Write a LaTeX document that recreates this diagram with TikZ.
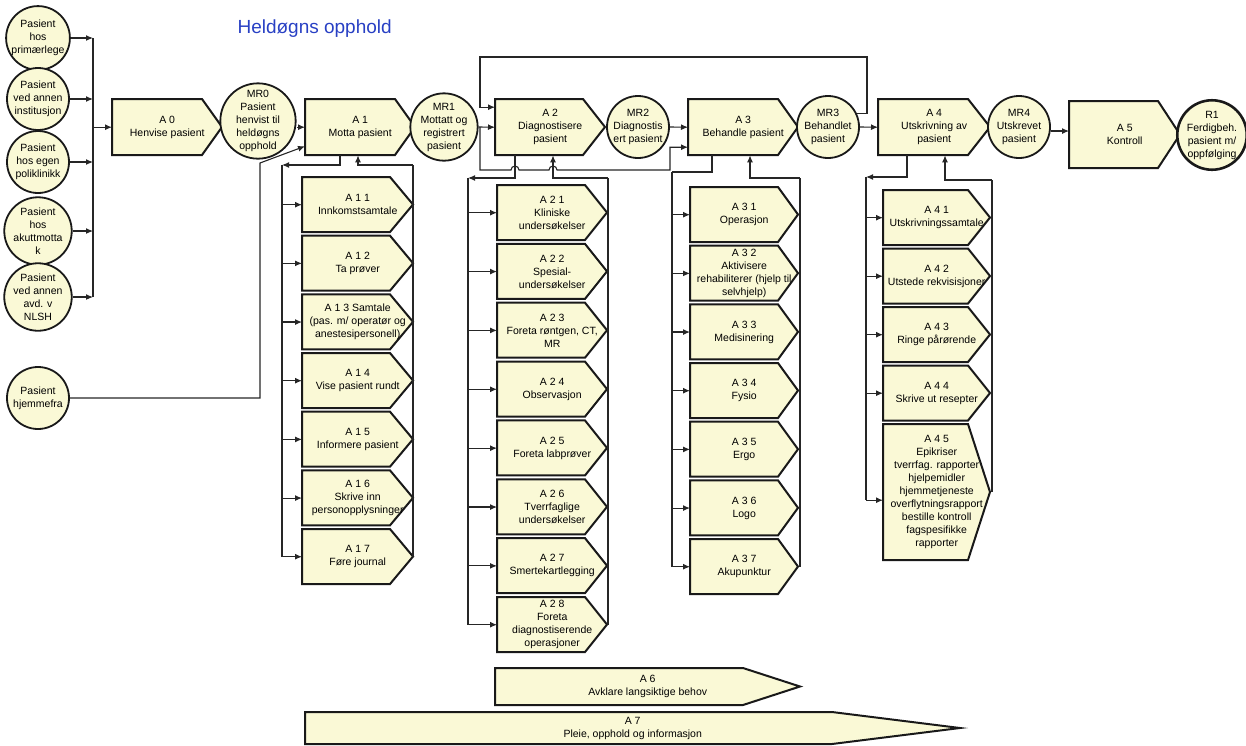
\documentclass[tikz,border=0pt]{standalone}
\usepackage{fontspec}
\setmainfont{Liberation Sans}
\usetikzlibrary{arrows.meta}

\definecolor{boxfill}{RGB}{250,249,214}
\definecolor{titleblue}{RGB}{40,64,196}

\tikzset{
  actshape/.style={draw=black!90, line width=2pt, fill=boxfill, line join=miter},
  acttext/.style={inner sep=0pt, align=center, font=\fontsize{10.5}{13}\selectfont},
  state/.style={circle, draw=black!90, line width=1.8pt, fill=boxfill, inner sep=0pt,
    align=center, font=\fontsize{10.5}{13}\selectfont, minimum size=62pt},
  conn/.style={draw=black!85, line width=1.1pt},
  flow/.style={conn, -{Latex[length=7pt,width=6pt]}},
}

% activity box: name, left, top, body width, height, tip length, text
\newcommand{\actbox}[7]{%
  \filldraw[actshape] (#2,#3) -- ++(#4,0) -- ++(#6,#5/2) -- ++(-#6,#5/2) -- ++(-#4,0) -- cycle;
  \node[acttext, minimum width=#4+#6, minimum height=#5, anchor=north west] (#1) at (#2,#3) {#7};
}

\begin{document}
\begin{tikzpicture}[x=1pt,y=-1pt]
    \useasboundingbox (0,0) rectangle (1246,745);

    % Title
    \node[anchor=west, font=\fontsize{19}{21}\selectfont, text=titleblue] (title) at (234,29) {Heldøgns opphold};

    % Where the patient comes from
    \foreach \n/\y/\txt in {
        p1/38/Pasient\\hos\\primærlege,
        p2/99/Pasient\\ved annen\\institusjon,
        p3/162/Pasient\\hos egen\\poliklinikk,
        p4/231/Pasient\\hos\\akuttmotta\\k,
        p5/297/Pasient\\ved annen\\avd. v\\NLSH,
        p6/398/Pasient\\hjemmefra
    }
    {
        \node[state] (\n) at (38,\y) {\txt};
    }

    \coordinate (bustop) at (93,38);
    \coordinate (busbot) at (93,297);
    \draw[conn] (bustop) -- (busbot);
    \foreach \n in {p1,p2,p3,p4,p5}
        \draw[flow] (\n.east) -- (\n.east -| bustop);

    % Main chain
    \actbox{a0}{112}{99}{90}{56}{20}{A 0\\Henvise pasient}
    \node[state, minimum size=68pt] (mr0) at (258,121) {MR0\\Pasient\\henvist til\\heldøgns\\opphold};
    \actbox{a1}{305}{99}{90}{56}{20}{A 1\\Motta pasient}
    \node[state, minimum size=60pt] (mr1) at (444,127) {MR1\\Mottatt og\\registrert\\pasient};
    \actbox{a2}{495}{99}{88}{56}{22}{A 2\\Diagnostisere\\pasient}
    \node[state] (mr2) at (638,127) {MR2\\Diagnostis\\ert pasient};
    \actbox{a3}{688}{99}{90}{56}{20}{A 3\\Behandle pasient}
    \node[state] (mr3) at (828,127) {MR3\\Behandlet\\pasient};
    \actbox{a4}{878}{99}{90}{56}{22}{A 4\\Utskrivning av\\pasient}
    \node[state] (mr4) at (1019,127) {MR4\\Utskrevet\\pasient};
    \actbox{a5}{1069}{101}{89}{67}{22}{A 5\\Kontroll}
    \node[state, line width=2.6pt, minimum size=64pt] (r1) at (1212,135) {R1\\Ferdigbeh.\\pasient m/\\oppfølging};

    \draw[flow] (a0.west -| bustop) -- (a0.west);
    \draw[flow] (a1.west -| mr0.east) -- (a1.west);
    \draw[flow] (mr1.east) -- (a2.west);
    \draw[flow] (mr2.east) -- (a3.west);
    \draw[flow] (mr3.east) -- (a4.west);
    \draw[flow] ([yshift=-4pt]mr4.east) -- ([yshift=-4pt]mr4.east -| a5.west);

    % From home
    \coordinate (hj) at (260,163);
    \draw[flow] (p6.east) -| (hj) -- ([yshift=-19pt]a1.west);

    % Back to diagnosis
    \coordinate (loopr) at (867,57);
    \coordinate (loopl) at (480,57);
    \draw[flow] (mr3.25) -| (loopr) -- (loopl) |- ([yshift=20pt]a2.west);

    % Straight to treatment
    \coordinate (split) at (480,127);
    \draw[flow] (split) -- (480,170) -- (511,170) arc[start angle=180, end angle=360, radius=4]
        -- (549,170) arc[start angle=180, end angle=360, radius=4]
        -- (670,170) |- ([yshift=-20pt]a3.west);

    % A 1 sub-activities
    \foreach \i/\txt in {
        1/A 1 1\\Innkomstsamtale,
        2/A 1 2\\Ta prøver,
        3/A 1 3 Samtale\\(pas. m{/} operatør og\\anestesipersonell),
        4/A 1 4\\Vise pasient rundt,
        5/A 1 5\\Informere pasient,
        6/A 1 6\\Skrive inn\\personopplysninger,
        7/A 1 7\\Føre journal
    }
    {
        \pgfmathsetmacro{\ytop}{177+(\i-1)*58.67}
        \actbox{a1\i}{302}{\ytop}{88}{55}{23}{\txt}
    }
    \coordinate (d1) at (282,165);
    \coordinate (c1) at (413,165);
    \draw[flow] ([xshift=35pt]a1.south west) |- (d1);
    \draw[conn] (d1) -- (d1 |- a17.west);
    \foreach \i in {1,...,7}
        \draw[flow] (a1\i.west -| d1) -- (a1\i.west);
    \draw[conn] (c1 |- a17.east) -- (c1);
    \draw[flow] (c1) -| ([xshift=53pt]a1.south west);

    % A 2 sub-activities
    \foreach \i/\txt in {
        1/A 2 1\\Kliniske\\undersøkelser,
        2/A 2 2\\Spesial-\\undersøkelser,
        3/A 2 3\\Foreta røntgen{,} CT{,}\\MR,
        4/A 2 4\\Observasjon,
        5/A 2 5\\Foreta labprøver,
        6/A 2 6\\Tverrfaglige\\undersøkelser,
        7/A 2 7\\Smertekartlegging,
        8/A 2 8\\Foreta\\diagnostiserende\\operasjoner
    }
    {
        \pgfmathsetmacro{\ytop}{185+(\i-1)*58.86}
        \actbox{a2\i}{497}{\ytop}{88}{55}{22}{\txt}
    }
    \coordinate (d2) at (468,178);
    \coordinate (c2) at (608,178);
    \draw[flow] ([xshift=20pt]a2.south west) |- (d2);
    \draw[conn] (d2) -- (d2 |- a28.west);
    \foreach \i in {1,...,8}
        \draw[flow] (a2\i.west -| d2) -- (a2\i.west);
    \draw[conn] (c2 |- a28.east) -- (c2);
    \draw[flow] (c2) -| ([xshift=58pt]a2.south west);

    % A 3 sub-activities
    \foreach \i/\txt in {
        1/A 3 1\\Operasjon,
        2/A 3 2\\Aktivisere\\rehabiliterer (hjelp til\\selvhjelp),
        3/A 3 3\\Medisinering,
        4/A 3 4\\Fysio,
        5/A 3 5\\Ergo,
        6/A 3 6\\Logo,
        7/A 3 7\\Akupunktur
    }
    {
        \pgfmathsetmacro{\ytop}{187+(\i-1)*58.67}
        \actbox{a3\i}{690}{\ytop}{88}{55}{20}{\txt}
    }
    \coordinate (d3) at (672,172);
    \coordinate (c3) at (800,178);
    \draw[conn] ([xshift=24pt]a3.south west) |- (d3);
    \draw[conn] (d3) -- (d3 |- a37.west);
    \foreach \i in {1,...,7}
        \draw[flow] (a3\i.west -| d3) -- (a3\i.west);
    \draw[conn] (c3 |- a37.east) -- (c3);
    \draw[flow] (c3) -| ([xshift=62pt]a3.south west);

    % A 4 sub-activities
    \foreach \i/\txt in {
        1/A 4 1\\Utskrivningssamtale,
        2/A 4 2\\Utstede rekvisisjoner,
        3/A 4 3\\Ringe pårørende,
        4/A 4 4\\Skrive ut resepter
    }
    {
        \pgfmathsetmacro{\ytop}{190+(\i-1)*58.5}
        \actbox{a4\i}{883}{\ytop}{85}{55}{22}{\txt}
    }
    \actbox{a45}{883}{424}{85}{136}{22}{A 4 5\\Epikriser\\tverrfag. rapporter\\hjelpemidler\\hjemmetjeneste\\overflytningsrapport\\bestille kontroll\\fagspesifikke\\rapporter}
    \coordinate (d4) at (866,177);
    \coordinate (c4) at (992,180);
    \coordinate (a45in) at ([yshift=-8pt]a45.west);
    \draw[flow] ([xshift=29pt]a4.south west) |- (d4);
    \draw[conn] (d4) -- (d4 |- a45in);
    \foreach \i in {1,...,4}
        \draw[flow] (a4\i.west -| d4) -- (a4\i.west);
    \draw[flow] (a45in -| d4) -- (a45in);
    \draw[conn] (c4 |- a45.east) -- (c4);
    \draw[flow] (c4) -| ([xshift=67pt]a4.south west);

    % Running through the whole stay
    \actbox{a6}{495}{668}{248}{37}{57}{A 6\\Avklare langsiktige behov}
    \actbox{a7}{305}{712}{527}{32}{128}{A 7\\Pleie, opphold og informasjon}

\end{tikzpicture}
\end{document}
